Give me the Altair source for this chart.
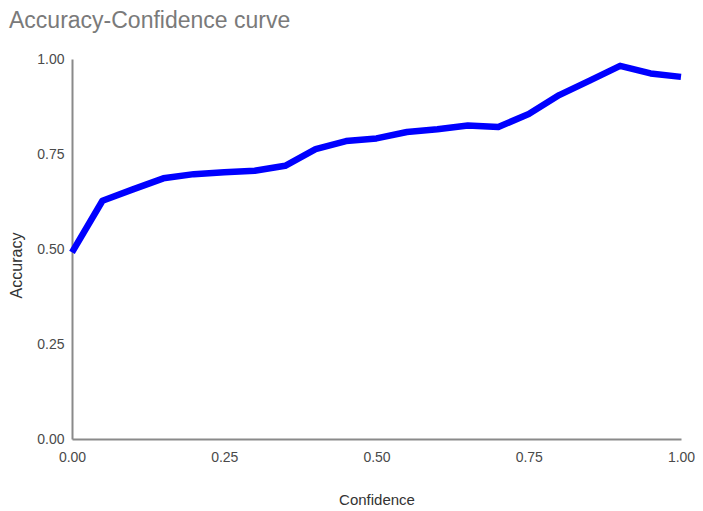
import altair as alt
import pandas as pd

confidence = [0.00, 0.05, 0.10, 0.15, 0.20, 0.25, 0.30, 0.35, 0.40, 0.45, 0.50,
              0.55, 0.60, 0.65, 0.70, 0.75, 0.80, 0.85, 0.90, 0.95, 1.00]
accuracy = [0.491, 0.627, 0.657, 0.686, 0.697, 0.702, 0.706, 0.719, 0.763, 0.784, 0.791,
            0.808, 0.815, 0.825, 0.821, 0.855, 0.905, 0.943, 0.982, 0.962, 0.953]

df = pd.DataFrame({"Confidence": confidence, "Accuracy": accuracy})

FONT = "Liberation Sans"

chart = alt.Chart(df).mark_line(color="#0000FF", strokeWidth=6.5, strokeJoin="round").encode(
    x=alt.X("Confidence:Q",
            scale=alt.Scale(domain=[0, 1], nice=False),
            axis=alt.Axis(values=[0, 0.25, 0.5, 0.75, 1.0], format=".2f", grid=False, ticks=False,
                          labelFlush=False,
                          domainColor="#8a8a8a", domainWidth=2,
                          labelFont=FONT, labelFontSize=14, labelColor="#4a4a4a", labelPadding=11,
                          title="Confidence", titleFont=FONT, titleFontSize=15, titleFontWeight="normal",
                          titleColor="#333333", titleY=60, titleBaseline="middle")),
    y=alt.Y("Accuracy:Q",
            scale=alt.Scale(domain=[0, 1], nice=False),
            axis=alt.Axis(values=[0, 0.25, 0.5, 0.75, 1.0], format=".2f", grid=False, ticks=False,
                          labelFlush=False,
                          domainColor="#8a8a8a", domainWidth=2,
                          labelFont=FONT, labelFontSize=14, labelColor="#4a4a4a", labelPadding=8,
                          title="Accuracy", titleFont=FONT, titleFontSize=16, titleFontWeight="normal",
                          titleColor="#333333", titleX=-56, titleY=206, titleAngle=-90,
                          titleAlign="center", titleBaseline="middle")),
).properties(
    width=609,
    height=380,
    title=alt.TitleParams("Accuracy-Confidence curve", anchor="start", frame="group", dx=-63,
                          offset=19, font=FONT, fontSize=23, fontWeight="normal", color="#7a7a7a"),
    autosize=alt.AutoSizeParams(type="none"),
    padding={"left": 64, "top": 51, "right": 14, "bottom": 70},
).configure_view(stroke=None)

chart.save("out.html", embed_options={"renderer": "svg", "actions": False})
